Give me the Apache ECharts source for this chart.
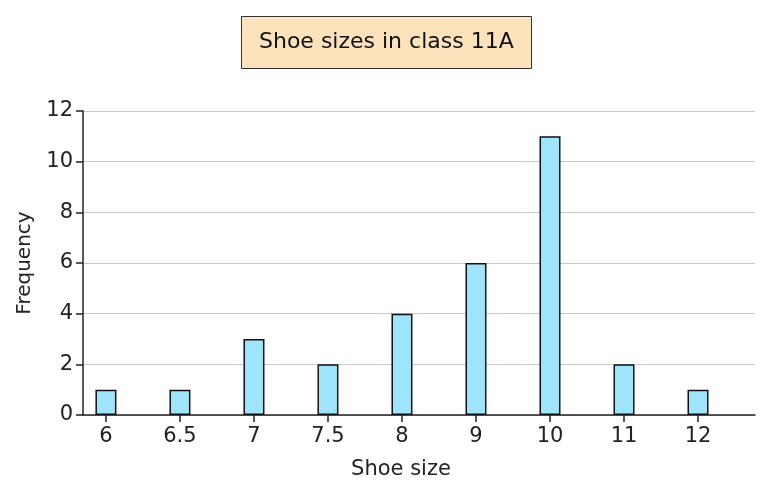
<!DOCTYPE html>
<html>
<head>
<meta charset="utf-8">
<script src="https://cdn.jsdelivr.net/npm/echarts@6/dist/echarts.min.js"></script>
<style>html,body{margin:0;padding:0;background:#fff}#c{width:771px;height:490px}</style>
</head>
<body>
<div id="c"></div>
<script>
const categories = ['6', '6.5', '7', '7.5', '8', '9', '10', '11', '12'];
const frequency = [1, 1, 3, 2, 4, 6, 11, 2, 1];
const yTicks = [0, 2, 4, 6, 8, 10, 12];

const chart = echarts.init(document.getElementById('c'));
const idx = categories.map((c, i) => i);
chart.setOption({
  animation: false,
  title: {
    text: 'Shoe sizes in class 11A',
    left: 241,
    top: 16,
    backgroundColor: '#fde3bb',
    borderColor: '#333',
    borderWidth: 1,
    padding: [15, 18, 15, 18],
    textStyle: { fontFamily: 'DejaVu Sans', fontWeight: 'normal', fontSize: 22, lineHeight: 23, color: '#111' }
  },
  grid: { left: 83, right: 16, top: 111, bottom: 75, containLabel: false },
  xAxis: {
    type: 'value',
    min: -0.31,
    max: 8.77,
    name: 'Shoe size',
    nameLocation: 'middle',
    nameGap: 44,
    nameTextStyle: { fontFamily: 'DejaVu Sans', fontSize: 21, color: '#222', padding: [0, 36, 0, 0] },
    axisLine: { lineStyle: { color: '#222', width: 1.5 } },
    axisTick: { show: true, customValues: idx, length: 7, lineStyle: { color: '#222', width: 1.5 } },
    axisLabel: { customValues: idx, formatter: v => categories[Math.round(v)], fontFamily: 'DejaVu Sans', fontSize: 21, color: '#222', margin: 11 },
    splitLine: { show: false }
  },
  yAxis: {
    type: 'value',
    min: 0,
    max: 12,
    interval: 2,
    name: 'Frequency',
    nameLocation: 'middle',
    nameGap: 48,
    nameTextStyle: { fontFamily: 'DejaVu Sans', fontSize: 20, color: '#222' },
    axisLine: { show: true, onZero: false, lineStyle: { color: '#222', width: 1.5 } },
    axisTick: { show: true, length: 7, lineStyle: { color: '#222', width: 1.5 } },
    axisLabel: { fontFamily: 'DejaVu Sans', fontSize: 21, color: '#222', margin: 10,
      customValues: yTicks },
    splitLine: { show: true, lineStyle: { color: '#c8c8c8', width: 1 } }
  },
  series: [{
    type: 'bar',
    barWidth: 21,
    data: frequency.map((v, i) => [i, v]),
    itemStyle: { color: '#9de4fc', borderColor: '#111', borderWidth: 1.5 }
  }]
});
</script>
</body>
</html>
